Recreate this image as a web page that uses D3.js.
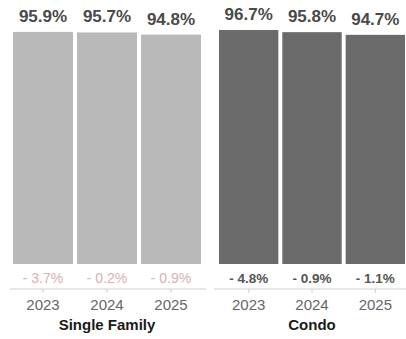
<!DOCTYPE html>
<html><head><meta charset="utf-8">
<script src="https://cdn.jsdelivr.net/npm/d3@7"></script>
<style>html,body{margin:0;padding:0;background:#fff;}svg{display:block;}</style>
</head><body>
<svg id="c" width="406" height="339"></svg>
<script>
const years = ["2023", "2024", "2025"];
const groups = ["Single Family", "Condo"];
const sfValues = [95.9, 95.7, 94.8];
const condoValues = [96.7, 95.8, 94.7];
const sfChanges = ["- 3.7%", "- 0.2%", "- 0.9%"];
const condoChanges = ["- 4.8%", "- 0.9%", "- 1.1%"];

const svg = d3.select("#c");
const font = "'Liberation Sans', Arial, Helvetica, sans-serif";
const y = d3.scaleLinear().domain([0, 100]).range([264, 22]);

const panels = [
  {name: groups[0], values: sfValues, changes: sfChanges, range: [13, 201], axis: [10, 206], fill: "#b9b9b9", changeColor: "#d6b2b2", changeWeight: "normal", changeSize: 14},
  {name: groups[1], values: condoValues, changes: condoChanges, range: [219, 405], axis: [214, 406], fill: "#6b6b6b", changeColor: "#555", changeWeight: "bold", changeSize: 13.5}
];

panels.forEach(p => {
  const x = d3.scaleBand().domain(years).range(p.range).paddingInner(0.0625).paddingOuter(0);
  const g = svg.append("g");
  g.selectAll("rect").data(p.values).join("rect")
    .attr("x", (d, i) => x(years[i]))
    .attr("y", d => y(d))
    .attr("width", x.bandwidth())
    .attr("height", d => y(0) - y(d))
    .attr("fill", p.fill);
  g.selectAll("text.val").data(p.values).join("text").attr("class", "val")
    .attr("x", (d, i) => x(years[i]) + x.bandwidth() / 2)
    .attr("y", d => y(d) - 10)
    .attr("text-anchor", "middle")
    .attr("font-family", font).attr("font-size", 17).attr("font-weight", "bold")
    .attr("fill", "#4a4a4a")
    .text(d => d.toFixed(1) + "%");
  g.selectAll("text.chg").data(p.changes).join("text").attr("class", "chg")
    .attr("x", (d, i) => x(years[i]) + x.bandwidth() / 2)
    .attr("y", 282.5)
    .attr("text-anchor", "middle")
    .attr("font-family", font).attr("font-size", p.changeSize).attr("font-weight", p.changeWeight)
    .attr("fill", p.changeColor)
    .text(d => d);
  // axis
  const ax = g.append("g").attr("transform", "translate(0,289)")
    .call(d3.axisBottom(x).tickSize(4).tickPadding(6).tickSizeOuter(0));
  ax.select(".domain").attr("d", `M${p.axis[0]},0H${p.axis[1]}`).attr("stroke", "#d0d0d0");
  ax.selectAll(".tick line").attr("stroke", "#d0d0d0");
  ax.selectAll(".tick text").attr("font-family", font).attr("font-size", 15).attr("fill", "#666").attr("dy", "0.71em");
  g.append("text")
    .attr("x", (p.range[0] + p.range[1]) / 2)
    .attr("y", 330)
    .attr("text-anchor", "middle")
    .attr("font-family", font).attr("font-size", 15).attr("font-weight", "bold")
    .attr("fill", "#1a1a1a")
    .text(p.name);
});
</script>
</body></html>
